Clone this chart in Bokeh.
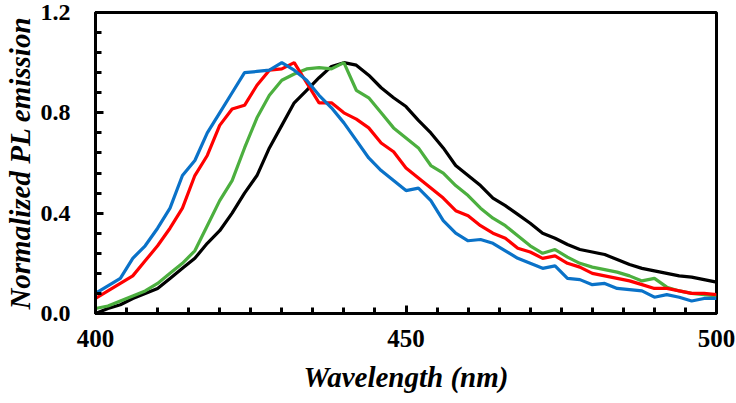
from bokeh.plotting import figure
from bokeh.models import (SingleIntervalTicker, FixedTicker, Range1d,
                          ColumnDataSource, CustomJSTickFormatter)
from bokeh.embed import file_html
from bokeh.resources import INLINE

wavelength = list(range(400, 501, 2))

black = [0.0, 0.02, 0.035, 0.06, 0.08, 0.10, 0.14, 0.18, 0.22, 0.28,
         0.33, 0.40, 0.48, 0.55, 0.66, 0.75, 0.84, 0.89, 0.94, 0.985,
         1.0, 0.99, 0.95, 0.90, 0.86, 0.825, 0.77, 0.72, 0.66, 0.59,
         0.55, 0.51, 0.46, 0.43, 0.395, 0.36, 0.32, 0.30, 0.275, 0.255,
         0.245, 0.235, 0.215, 0.195, 0.18, 0.17, 0.16, 0.15, 0.145, 0.135, 0.125]

green = [0.02, 0.03, 0.05, 0.07, 0.09, 0.12, 0.16, 0.20, 0.25, 0.35,
         0.45, 0.53, 0.66, 0.78, 0.87, 0.93, 0.955, 0.975, 0.98, 0.975,
         1.0, 0.89, 0.86, 0.80, 0.74, 0.70, 0.66, 0.59, 0.56, 0.51,
         0.47, 0.42, 0.38, 0.35, 0.31, 0.27, 0.24, 0.255, 0.225, 0.20,
         0.185, 0.175, 0.165, 0.15, 0.13, 0.14, 0.105, 0.09, 0.08, 0.075, 0.07]

red = [0.06, 0.09, 0.12, 0.15, 0.21, 0.27, 0.34, 0.42, 0.55, 0.63,
       0.75, 0.815, 0.83, 0.91, 0.97, 0.975, 1.0, 0.92, 0.84, 0.84,
       0.80, 0.775, 0.74, 0.68, 0.645, 0.58, 0.54, 0.50, 0.46, 0.41,
       0.39, 0.35, 0.32, 0.30, 0.26, 0.245, 0.22, 0.23, 0.20, 0.185,
       0.16, 0.15, 0.14, 0.13, 0.115, 0.10, 0.10, 0.09, 0.08, 0.08, 0.075]

blue = [0.08, 0.11, 0.14, 0.22, 0.27, 0.34, 0.42, 0.55, 0.61, 0.72,
        0.80, 0.88, 0.96, 0.965, 0.97, 1.0, 0.97, 0.93, 0.87, 0.82,
        0.76, 0.69, 0.62, 0.57, 0.53, 0.49, 0.50, 0.45, 0.37, 0.32,
        0.29, 0.295, 0.28, 0.25, 0.22, 0.20, 0.18, 0.19, 0.14, 0.135,
        0.115, 0.12, 0.10, 0.095, 0.09, 0.065, 0.075, 0.065, 0.05, 0.06, 0.06]

series = [("black", "#000000"), ("green", "#4CAF3F"), ("red", "#FF0000"), ("blue", "#0A72C8")]

y_major_ticks = [0.0, 0.4, 0.8, 1.2]
y_minor_step = 0.08
x_major_step = 50

x_title = "Wavelength (nm)"
y_title = "Normalized PL emission"

FONT = "Liberation Serif"

p = figure(width=736, height=403, x_range=Range1d(400, 500), y_range=Range1d(0, 1.2),
           output_backend="svg", toolbar_location=None,
           min_border_left=95, min_border_right=20, min_border_top=12, min_border_bottom=90)
p.grid.visible = False
p.outline_line_color = "black"
p.outline_line_width = 3
p.background_fill_color = "white"
p.border_fill_color = "white"

src = ColumnDataSource(dict(x=wavelength, black=black, green=green, red=red, blue=blue))
for name, col in series:
    p.line("x", name, source=src, line_color=col, line_width=3.2)

p.xaxis.ticker = SingleIntervalTicker(interval=x_major_step, num_minor_ticks=10)
y_minor = [round(i * y_minor_step, 2) for i in range(16)]
p.yaxis.ticker = FixedTicker(ticks=y_major_ticks, minor_ticks=y_minor)
p.yaxis.formatter = CustomJSTickFormatter(code="return tick.toFixed(1);")

for ax in (p.xaxis[0], p.yaxis[0]):
    ax.axis_line_width = 3
    ax.axis_line_color = "black"
    ax.major_tick_in = 8
    ax.major_tick_out = 0
    ax.minor_tick_in = 6
    ax.minor_tick_out = 0
    ax.major_tick_line_width = 3
    ax.minor_tick_line_width = 3
    ax.major_tick_line_color = "black"
    ax.minor_tick_line_color = "black"
    ax.major_label_text_font = FONT
    ax.major_label_text_font_style = "bold"
    ax.major_label_text_color = "black"
    ax.axis_label_text_font = FONT
    ax.axis_label_text_font_style = "bold italic"
    ax.axis_label_text_color = "black"

p.xaxis.major_label_text_font_size = "25px"
p.yaxis.major_label_text_font_size = "24px"
p.xaxis.major_label_standoff = 16
p.yaxis.major_label_standoff = 25

p.xaxis.axis_label = x_title
p.xaxis.axis_label_text_font_size = "29px"
p.xaxis.axis_label_standoff = 11
p.yaxis.axis_label = y_title
p.yaxis.axis_label_text_font_size = "29px"
p.yaxis.axis_label_standoff = 2

open("out.html", "w").write(file_html(p, INLINE))
